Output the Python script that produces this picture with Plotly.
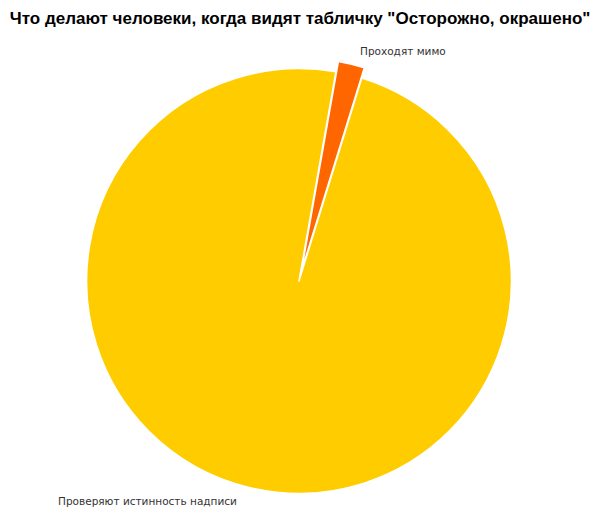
import plotly.graph_objects as go

labels = ["Проходят мимо", "Проверяют истинность надписи"]
values = [2, 98]
colors = ["#FF6600", "#FFCC00"]
pulls = [0.05, 0]

fig = go.Figure()

fig.add_trace(go.Pie(
    labels=labels,
    values=values,
    pull=pulls,
    sort=False,
    direction="clockwise",
    rotation=10,
    marker=dict(colors=colors, line=dict(color="white", width=1.5)),
    textinfo="none",
    showlegend=False,
    hoverinfo="label+percent",
))

# slice labels placed beside the pie like in the original
label_pos = [(0.633, 1.016), (-0.044, 0.007)]
for (x, y), text in zip(label_pos, labels):
    fig.add_annotation(
        x=x, y=y, xref="paper", yref="paper",
        text=text, showarrow=False, xanchor="left", yanchor="middle",
        font=dict(family="DejaVu Sans", size=10.5, color="#333333"),
    )

fig.update_layout(
    width=606,
    height=529,
    margin=dict(l=68, r=92, t=50, b=33),
    paper_bgcolor="white",
    title=dict(
        text="<b>Что делают человеки, когда видят табличку \"Осторожно, окрашено\"</b>",
        x=0.003,
        xanchor="left",
        y=0.993,
        yanchor="top",
        font=dict(family="Liberation Sans", size=17, color="black"),
    ),
)

fig.write_html("out.html")
